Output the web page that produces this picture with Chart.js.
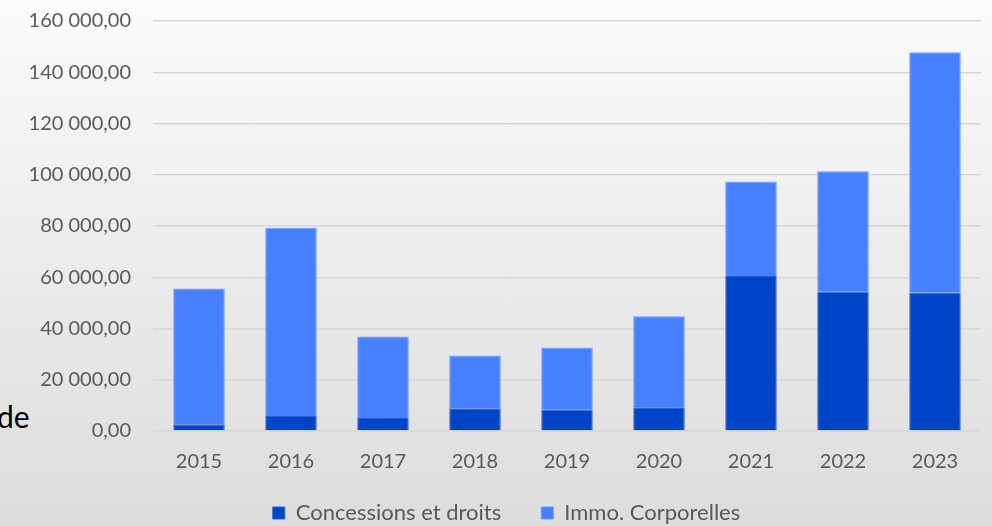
<!DOCTYPE html>
<html>
<head>
<meta charset="utf-8">
<script src="https://cdn.jsdelivr.net/npm/chart.js@4"></script>
<style>
  html, body { margin: 0; padding: 0; }
  body {
    width: 992px; height: 526px; overflow: hidden; position: relative;
    background: linear-gradient(to bottom, #fbfbfb 0%, #dcdcdc 100%);
  }
  #side { position: absolute; left: -3px; top: 398px; font: 30px Lato, sans-serif; color: #000; }
  canvas { position: absolute; left: 0; top: 0; }
</style>
</head>
<body>
<div id="side">de</div>
<canvas id="chart" width="992" height="526"></canvas>
<script>
const years = ['2015', '2016', '2017', '2018', '2019', '2020', '2021', '2022', '2023'];
const concessions = [2600, 5900, 5100, 8900, 8300, 9300, 60500, 54300, 54000];
const corporelles = [53000, 73400, 31800, 20600, 24300, 35500, 36900, 47100, 93800];

// 160000 -> "160 000,00"
function frNumber(v){
    let parts = v.toFixed(2).split('.');
    return parts[0].replace(/\B(?=(\d{3})+(?!\d))/g, ' ') + ',' + parts[1];
}

// fixed legend height, nudged a bit to the right like the original
const legendPlace = {
    id:'legendPlace',
    beforeInit(chart){
        const lg = chart.legend;
        const fit = lg.fit;
        lg.fit = function(){ fit.call(this); this.height = 53; };
    },
    afterLayout(chart){
        const lg = chart.legend;
        lg.left += 16; lg.right += 16;
        lg.top = 462; lg.bottom = 526; lg.height = 64;
    }
};

const ctx = document.getElementById('chart').getContext('2d');

const chart = new Chart(ctx,{
    type:'bar',
    data:{
        labels: years,
        datasets:[{
            label:'Concessions et droits',
            data: concessions,
            backgroundColor:'#0044c8',
            borderColor:'#2a62d6',
            borderWidth: 1
        },{
            label:'Immo. Corporelles',
            data: corporelles,
            backgroundColor:'#4680ff',
            borderColor:'#6a99ff',
            borderWidth: 1
        }]
    },
    plugins:[legendPlace],
    options:{
        responsive: false,
        animation: false,
        categoryPercentage: 1,
        barPercentage: 0.56,
        layout:{ padding:{ left: 0, right: 11, top: 21, bottom: 0 } },
        plugins:{
            legend:{
                position:'bottom',
                labels:{
                    boxWidth: 12,
                    boxHeight: 12,
                    padding: 40,
                    color:'#595959',
                    font:{ family:'Lato', size: 22 }
                }
            },
            tooltip:{ enabled:false }
        },
        scales:{
            x:{
                stacked: true,
                clip: false,
                afterFit: s => { s.height = 42; },
                grid:{ display:false },
                border:{ display:false },
                ticks:{ color:'#595959', padding: 11, font:{ family:'Lato', size: 20 } }
            },
            y:{
                stacked: true,
                clip: false,
                min: 0,
                max: 160000,
                afterFit: s => { s.width = 153; s.paddingTop = 0; s.paddingBottom = 0; },
                grid:{ color:'#d6d6d6', lineWidth: 1.5, drawTicks:false },
                border:{ display:false },
                ticks:{
                    stepSize: 20000,
                    padding: 22,
                    color:'#595959',
                    font:{ family:'Lato', size: 20 },
                    callback: v => frNumber(v)
                }
            }
        }
    }
});
</script>
</body>
</html>
